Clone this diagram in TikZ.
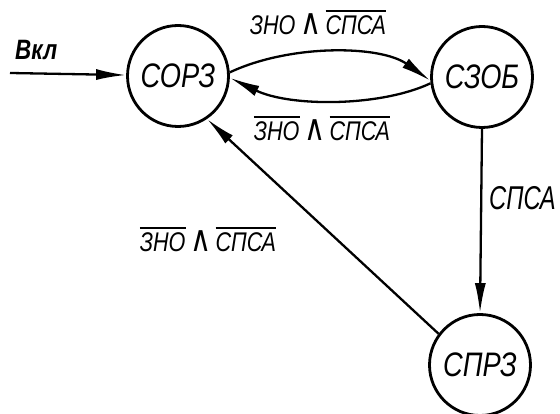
\documentclass[tikz,border=0pt]{standalone}
\usepackage{fontspec}
\newfontfamily\lab[FakeStretch=0.8]{Liberation Sans}
\newfontfamily\labn[FakeStretch=0.72]{Liberation Sans}
\newfontfamily\symf[FakeStretch=0.8]{DejaVu Sans}
\usetikzlibrary{arrows.meta}
\newcommand\ovl[1]{\leavevmode\vbox{\hrule height 1.6pt\kern 4.5pt\hbox{#1}}}
\newcommand\andsym{\,{\symf\itshape\fontsize{36}{36}\selectfont ∧}\,}
\begin{document}
\begin{tikzpicture}[x=1pt,y=1pt,
  state/.style={circle,draw,line width=2.8pt,minimum size=101pt,inner sep=0pt,
    font=\lab\itshape\fontsize{34}{34}\selectfont},
  lbl/.style={font=\lab\itshape\fontsize{27}{27}\selectfont,inner sep=0pt},
  biglbl/.style={font=\labn\itshape\fontsize{33}{33}\selectfont,inner sep=0pt},
  conn/.style={line width=2.3pt,-{Latex[length=30pt,width=11pt]}}]
\useasboundingbox[fill=white] (0,0) rectangle (560,414);
\node[state] (sorz) at (178,338) {СОРЗ};
\node[state] (szob) at (482,337) {СЗОБ};
\node[state] (sprz) at (480,49) {СПРЗ};
\coordinate (start) at (10,341);
\draw[conn] (start) -- (sorz);
\draw[conn] (sorz.4) .. controls (290,370) and (380,369) .. (szob.184);
\draw[conn] (szob.187) .. controls (380,307) and (290,307) .. (sorz.-2);
\draw[conn] (szob.south) -- (sprz.north);
\draw[conn] (sprz.143) -- (sorz.-56);
\node[lbl,anchor=base] (l1) at (318,379) {ЗНО\andsym\ovl{СПСА}};
\node[lbl,anchor=base] (l2) at (322,273) {\ovl{ЗНО}\andsym\ovl{СПСА}};
\node[lbl,anchor=base] (l3) at (208,162) {\ovl{ЗНО}\andsym\ovl{СПСА}};
\node[biglbl,anchor=base west] (l4) at (489,204) {СПСА};
\node[lbl,anchor=base west,font=\lab\bfseries\itshape\fontsize{28}{28}\selectfont] (l5) at (15,354) {Вкл};
\end{tikzpicture}
\end{document}
